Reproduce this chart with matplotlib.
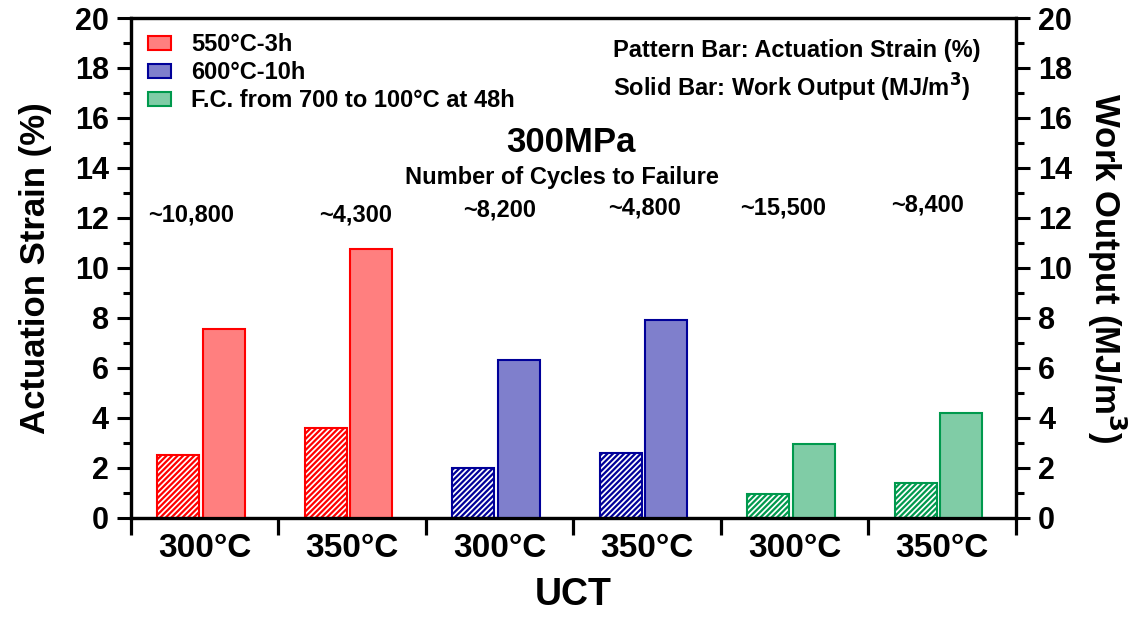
import numpy as np
import matplotlib
matplotlib.use("Agg")
import matplotlib.pyplot as plt
from matplotlib.patches import Patch
from matplotlib.ticker import MultipleLocator

plt.rcParams['font.family'] = ['Liberation Sans', 'DejaVu Sans']
plt.rcParams['font.weight'] = 'bold'
plt.rcParams['hatch.linewidth'] = 1.6

# data
uct = ["300°C", "350°C", "300°C", "350°C", "300°C", "350°C"]
strain = [2.5, 3.6, 2.0, 2.6, 0.95, 1.4]        # pattern bars, %
work = [7.55, 10.75, 6.3, 7.9, 2.95, 4.2]       # solid bars, MJ/m^3
cycles = ["~10,800", "~4,300", "~8,200", "~4,800", "~15,500", "~8,400"]
cycle_y = [12.1, 12.1, 12.3, 12.4, 12.4, 12.5]
cycle_dx = [-0.09, 0.02, 0.0, -0.02, -0.08, -0.1]
series = ["550°C-3h", "600°C-10h", "F.C. from 700 to 100°C at 48h"]
edge = ["#ff0000", "#000099", "#00994d"]
fill = ["#ff7f7f", "#7f7fcc", "#80cca6"]

fig = plt.figure(figsize=(11.44, 6.21), dpi=100)
ax = fig.add_axes([0.1145, 0.166, 0.7735, 0.805])
ax2 = ax.twinx()

x = np.arange(len(uct))
w = 0.285
for i in range(len(uct)):
    k = i // 2
    ax.bar(x[i] - 0.178, strain[i], w, facecolor="white", edgecolor=edge[k],
           hatch="//////", lw=1.5, zorder=2)
    ax2.bar(x[i] + 0.128, work[i], w, facecolor=fill[k], edgecolor=edge[k],
            lw=1.5, zorder=2)
    ax.text(x[i] + cycle_dx[i], cycle_y[i], cycles[i], ha="center", va="center",
            fontsize=17, fontweight="bold")

for a in (ax, ax2):
    a.set_ylim(0, 20)
    a.yaxis.set_major_locator(MultipleLocator(2))
    a.yaxis.set_minor_locator(MultipleLocator(1))
    a.tick_params(axis="y", which="major", direction="out", length=10, width=2.2,
                  labelsize=22, pad=6)
    a.tick_params(axis="y", which="minor", direction="out", length=6, width=2.2)
    for s in a.spines.values():
        s.set_linewidth(2.3)

ax.set_xlim(-0.5, 5.5)
ax.set_xticks(np.arange(-0.5, 6, 1))
ax.set_xticklabels([])
ax.set_xticks(x, minor=True)
ax.set_xticklabels(uct, minor=True, fontsize=24, fontweight="bold")
ax.tick_params(axis="x", which="major", direction="out", length=12, width=2.3)
ax.tick_params(axis="x", which="minor", length=0, pad=11)

ax.set_ylabel("Actuation Strain (%)", fontsize=25, fontweight="bold", labelpad=16)
ax2.set_ylabel("Work Output (MJ/m$^\\mathbf{3}$)", fontsize=25, fontweight="bold",
               rotation=270, labelpad=40)
ax.set_xlabel("UCT", fontsize=27, fontweight="bold", labelpad=9)

ax.text(2.48, 15.0, "300MPa", ha="center", va="center", fontsize=25, fontweight="bold")
ax.text(2.42, 13.6, "Number of Cycles to Failure", ha="center", va="center",
        fontsize=17, fontweight="bold")
ax.text(2.77, 18.7, "Pattern Bar: Actuation Strain (%)", ha="left", va="center",
        fontsize=17, fontweight="bold")
ax.text(2.77, 17.2, "Solid Bar: Work Output (MJ/m$^\\mathbf{3}$)", ha="left", va="center",
        fontsize=17, fontweight="bold")

handles = [Patch(facecolor=fill[k], edgecolor=edge[k], lw=1.5) for k in range(3)]
ax.legend(handles, series, loc="upper left", frameon=False,
          handlelength=1.0, handleheight=0.55, labelspacing=0.22,
          bbox_to_anchor=(0.019, 0.97), borderaxespad=0, borderpad=0,
          handletextpad=0.85, prop={"weight": "bold", "size": 17})

fig.savefig("out.png", dpi=100)
